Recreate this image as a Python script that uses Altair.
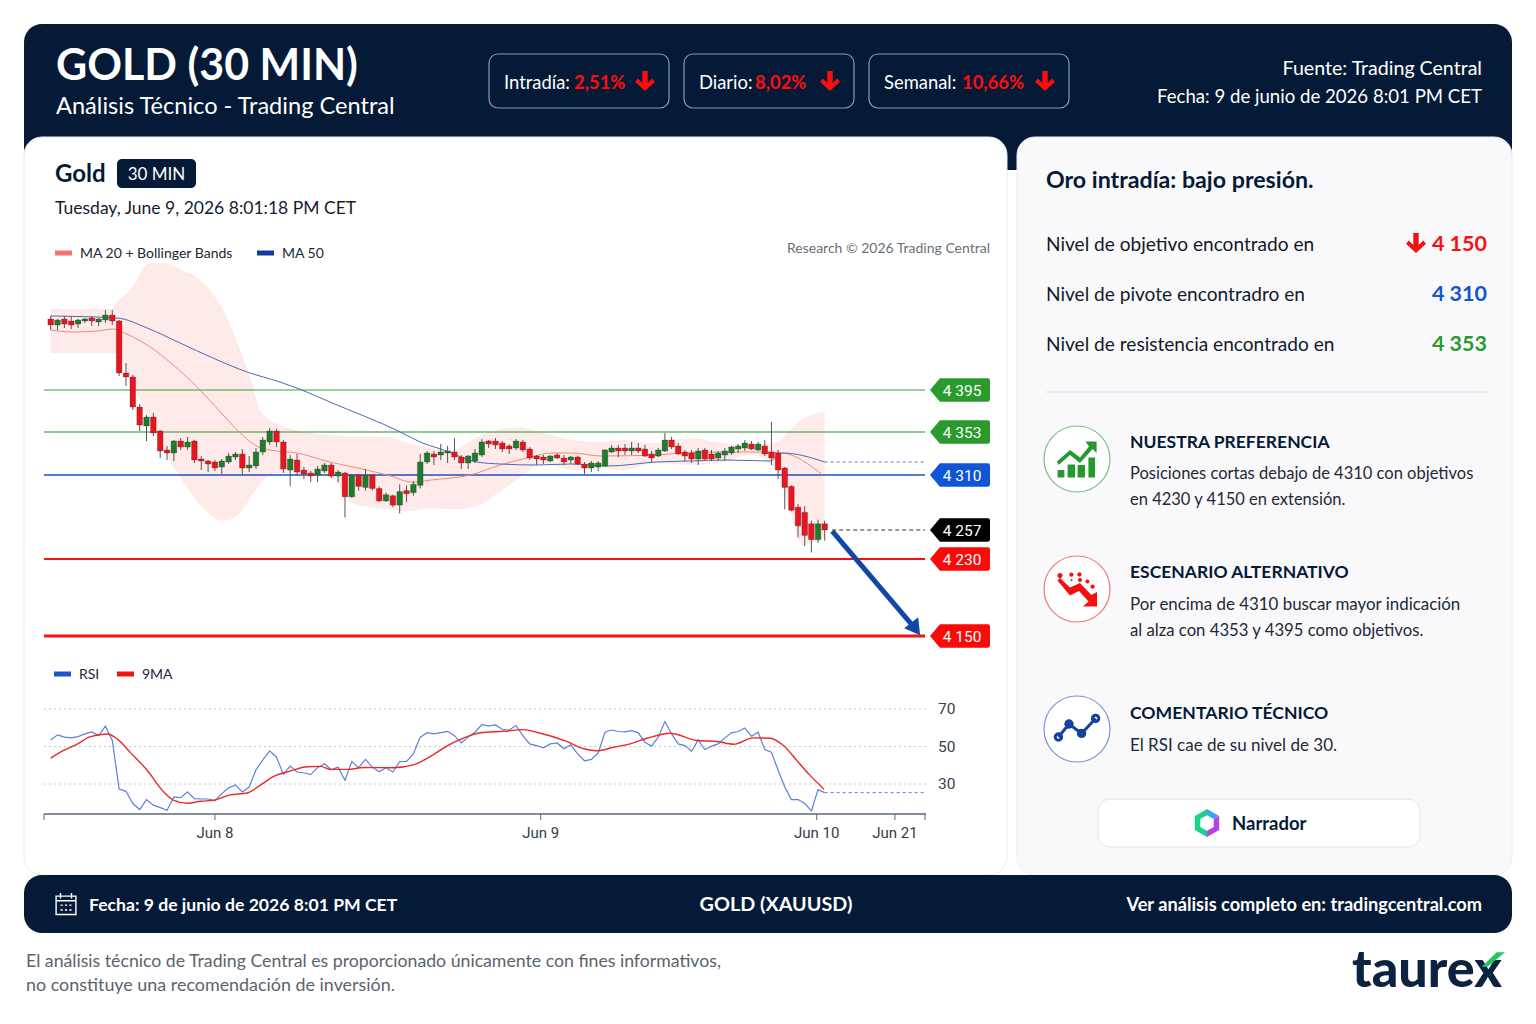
import altair as alt

# ---------- price data (30 min candles) ----------
opens = [4466,4460,4466,4464,4461,4464,4467,4463,4465,4470,4464,4412,4408,4378,4359,4368,4354,4335,4332,4344,
         4338,4344,4326,4324,4323,4318,4323,4328,4331,4317,4319,4333,4343,4354,4343,4315,4325,4315,4312,4310,
         4314,4320,4309,4312,4289,4310,4298,4310,4297,4285,4290,4281,4295,4293,4300,4323,4331,4330,4332,4333,
         4328,4322,4324,4330,4344,4344,4342,4339,4337,4343,4336,4329,4328,4324,4330,4327,4325,4328,4321,4317,
         4318,4319,4333,4337,4337,4334,4337,4336,4331,4329,4334,4345,4339,4333,4332,4326,4335,4331,4327,4330,
         4332,4336,4337,4341,4335,4339,4333,4332,4317,4299,4279,4274,4263,4248,4263]
highs = [4469,4466,4469,4469,4466,4467,4469,4467,4475,4475,4465,4422,4410,4381,4370,4372,4355,4339,4345,4347,
         4348,4345,4329,4325,4325,4326,4332,4333,4336,4329,4337,4348,4357,4356,4345,4330,4331,4318,4314,4319,
         4322,4322,4315,4313,4311,4311,4316,4311,4299,4293,4291,4301,4300,4304,4331,4334,4334,4341,4339,4347,
         4330,4330,4336,4346,4345,4347,4344,4341,4346,4345,4338,4330,4330,4330,4332,4330,4329,4329,4323,4324,
         4324,4336,4340,4340,4341,4343,4342,4340,4334,4337,4352,4348,4342,4335,4335,4337,4337,4335,4334,4337,
         4339,4341,4345,4344,4343,4345,4363,4335,4318,4300,4282,4280,4266,4267,4266]
lows = [4455,4455,4457,4456,4457,4462,4459,4459,4462,4460,4409,4399,4375,4354,4344,4349,4327,4325,4324,4335,
        4335,4322,4315,4313,4314,4311,4321,4325,4310,4313,4316,4330,4340,4338,4312,4299,4310,4306,4303,4303,
        4312,4307,4303,4269,4288,4295,4295,4295,4284,4284,4279,4273,4284,4290,4297,4321,4320,4325,4322,4325,
        4316,4316,4322,4328,4337,4336,4333,4331,4335,4333,4325,4320,4321,4323,4326,4320,4321,4320,4311,4313,
        4314,4318,4332,4328,4330,4330,4332,4328,4323,4328,4333,4336,4330,4324,4322,4320,4325,4324,4324,4324,
        4330,4332,4334,4335,4334,4329,4320,4306,4277,4275,4250,4242,4236,4245,4247]
closes = [4460,4465,4461,4460,4465,4466,4464,4466,4470,4464,4412,4408,4378,4360,4368,4352,4334,4332,4344,4338,
          4343,4325,4324,4321,4317,4324,4329,4331,4317,4320,4333,4345,4354,4343,4316,4326,4313,4311,4309,4316,
          4320,4309,4313,4289,4310,4299,4310,4297,4285,4291,4281,4294,4292,4301,4323,4332,4328,4333,4334,4328,
          4322,4329,4332,4343,4341,4340,4336,4336,4344,4335,4327,4326,4325,4329,4327,4323,4328,4321,4317,4322,
          4322,4335,4337,4334,4334,4337,4334,4329,4327,4335,4345,4338,4331,4329,4326,4334,4326,4326,4332,4334,
          4338,4339,4342,4336,4341,4331,4327,4315,4298,4276,4261,4252,4248,4263,4257]

ma20_i = [0,3.3,6.8,9.1,10.4,14.1,17.9,21.4,24.8,27.7,30.1,32,36,40.8,44.2,49.2,53,55.4,61.3,65.7,69.6,73.4,76.4,80.3,88.8,92.3,98.7,104.7,107.7,113.7]
ma20_v = [4455,4453,4454,4456,4453,4440,4420,4398,4373,4352,4339,4335,4332,4323,4318,4310,4303,4305,4310,4320,4327,4332,4332,4329,4330,4332,4333,4333,4332,4310]
ma50_i = [0,9.7,14.1,18.9,23.7,28.7,33.5,36.7,40.8,51.1,54,57.4,62.3,65.7,71,75.9,81.5,88.8,93.7,99.3,105.7,107.7,114]
ma50_v = [4469,4467,4457,4442,4427,4413,4403,4395,4383,4353,4343,4335,4323,4321,4320,4321,4319,4323,4324,4325,4324,4332,4323]
band_i = [0,8.7,9.7,11.6,14.5,16.7,18.9,22.3,25.2,27.4,29.4,30.6,33.1,40.8,44.2,49.2,52.1,55.4,58.8,62.3,65.2,68.6,72,76.4,80.3,83.7,88.8,93.7,98.7,102.8,106.8,108.8,110.7,114]
band_up = [4476,4476,4483,4495,4522,4522,4516,4502,4475,4440,4402,4375,4361,4350,4349,4348,4342,4337,4335,4348,4355,4358,4352,4345,4343,4345,4342,4347,4342,4340,4343,4355,4366,4373]
band_lo = [4432,4432,4431,4405,4365,4333,4308,4278,4266,4272,4290,4302,4312,4308,4282,4277,4275,4278,4277,4280,4292,4308,4322,4315,4317,4315,4322,4320,4323,4330,4315,4275,4243,4250]

levels = [4395,4353,4310,4257,4230,4150]
level_labels = ["4 395","4 353","4 310","4 257","4 230","4 150"]
level_colors = ["#2a9a2c","#2a9a2c","#0f55d8","#000000","#fb0a0a","#fb0a0a"]

# ---------- RSI ----------
rsi = [53.5,56.2,55,54.6,55.3,56.7,57.8,55.8,60.8,53.2,27.3,26.1,19.6,16.4,21.7,18.7,17.4,16,23.1,22.7,
       25.8,22.2,22,22,21,24.9,28,29.5,25.8,28.4,37.6,42.9,47.7,44.3,35.1,39.6,36.4,36,35,38.7,
       40.8,37.6,39,32,42,38.7,43.1,39,36.5,38.7,36.4,42,42,46.1,55,57.4,56.7,57.4,58.1,55.8,
       51.9,55,57.6,61.7,61,61.5,59.2,58.8,61.2,55.8,51.4,50.5,49.3,51.4,51.9,48.8,50.9,46.1,42.4,43.1,
       46.5,57.6,58.8,58,57.8,58.5,57.3,52.3,50.2,55,63.3,56.7,51.4,50.5,47.5,53.5,48.4,50.2,51.4,54.6,
       57.3,58,59.9,55.5,57.6,48.4,47,37.3,28.4,21.7,21.7,19.6,15.7,27,25.4]
ma9_i = [0,1.9,3.8,5.8,8.3,9.7,11.6,14.1,16.5,18,20,21.9,23.8,26.2,28.7,30.6,32.6,35,37.5,39.4,40.9,43.4,45.7,50.1,53.1,55.5,58,60.4,62.8,66.2,69.1,71,75.4,77.9,79.8,82.3,84.8,87.3,90.8,94.8,97.8,100.3,103.3,105.8,107.8,109.8,111.8,113.9]
ma9_v = [43.8,47.9,51.1,55.3,56.7,54.1,47,37.3,25.8,21.3,19.7,20.8,21.3,24.2,25.2,29.3,34.1,36.9,39.2,39.4,37.8,37.8,38.8,38.7,40.3,44.7,50.5,54.6,57.3,58.1,59,57.6,52.7,48.8,47.7,49.6,51.4,54.4,57.1,53.2,52.7,51.2,54.6,54.4,50.5,42.6,34.6,27.2]
rsi_levels = [70,50,30]
date_ticks = [24,71.6,112.8,122.4]
date_labels = ["Jun 8","Jun 9","Jun 10","Jun 21"]

# ---------- palette / fonts ----------
NAVY = "#051a36"
UI = "Lato"
CH = "Roboto"
M = 8

X_SCALE = alt.Scale(domain=[-1,0,81,114,126], range=[44-M,50.7-M,605-M,824.7-M,925-M], nice=False, zero=False)
PY_SCALE = alt.Scale(domain=[4150,4230,4257,4310,4395], range=[636-M,559-M,530-M,475-M,390-M], nice=False, zero=False)
RY_SCALE = alt.Scale(domain=[30,70], range=[784-M,709-M], nice=False, zero=False)
ONE = alt.Data(values=[{"a":1}])

def X(f="i", t="quantitative"): return alt.X(f, type=t, scale=X_SCALE, axis=None)
def PY(f="p"): return alt.Y(f, type="quantitative", scale=PY_SCALE, axis=None)
def RY(f="r"): return alt.Y(f, type="quantitative", scale=RY_SCALE, axis=None)
def recs(**cols):
    keys = list(cols)
    return alt.Data(values=[dict(zip(keys, row)) for row in zip(*cols.values())])

layers = []
def box(x0,y0,x1,y1,fill=None,stroke=None,sw=1,r=0,op=None):
    kw = dict(cornerRadius=r, strokeWidth=sw)
    kw["fill"] = fill if fill else "transparent"
    if stroke: kw["stroke"] = stroke
    layers.append(alt.Chart(ONE).mark_rect(**kw).encode(x=alt.value(x0-M),x2=alt.value(x1-M),y=alt.value(y0-M),y2=alt.value(y1-M)))
def text(s,x,y,size=18,color="#101828",weight=400,align="left",font=UI):
    layers.append(alt.Chart(ONE).mark_text(align=align,baseline="middle",fontSize=size,color=color,fontWeight=weight,font=font)
                  .encode(x=alt.value(x-M),y=alt.value(y+2-M),text=alt.value(s)))
def glyph(path,x,y,px,fill=None,stroke=None,sw=1):
    kw = dict(shape=path,size=px*px,opacity=1,strokeWidth=sw if stroke else 0)
    kw["filled"] = True
    kw["fill"] = fill if fill else "transparent"
    if stroke: kw["stroke"] = stroke
    layers.append(alt.Chart(ONE).mark_point(**kw).encode(x=alt.value(x-M),y=alt.value(y-M)))
def hline(x0,x1,y,color,sw=1):
    layers.append(alt.Chart(ONE).mark_rule(color=color,strokeWidth=sw).encode(x=alt.value(x0-M),x2=alt.value(x1-M),y=alt.value(y-M)))

ARROW = "M-0.27,-1L0.27,-1L0.27,0.2L0.72,-0.26L1,0.08L0,1L-1,0.08L-0.72,-0.26L-0.27,0.2Z"
def dot(u,v,r): return f"M{u-r},{v}a{r},{r} 0 1,0 {2*r},0a{r},{r} 0 1,0 {-2*r},0Z"

# ---------- frames ----------
box(24,24,1512,170,fill=NAVY,r=18)
box(24,137,1007,875,fill="#ffffff",stroke="#e9ebef",r=18)
box(1017,137,1512,875,fill="#f9f9fb",stroke="#eceef1",r=18)
box(24,875,1512,933,fill=NAVY,r=18)

# ---------- header ----------
text("GOLD (30 MIN)",56,65,43,"#ffffff",700)
text("Análisis Técnico - Trading Central",56,105,23.6,"#ffffff",400)
text("Fuente: Trading Central",1482,67,19.6,"#ffffff",400,"right")
text("Fecha: 9 de junio de 2026 8:01 PM CET",1482,95,18.6,"#ffffff",400,"right")
for x0,x1 in [(489,669),(684,854),(869,1069)]:
    box(x0,54,x1,108,stroke="#8c99ad",sw=1.2,r=9)
for lab,lx,val,vx,ax in [("Intradía:",504,"2,51%",574,645),("Diario:",699,"8,02%",755,830),("Semanal:",884,"10,66%",962,1045)]:
    text(lab,lx,81,18.4,"#ffffff")
    text(val,vx,81,18.4,"#ff0d0d",700)
    glyph(ARROW,ax,81,20,fill="#ff0d0d")

# ---------- chart head ----------
text("Gold",55,173,24,NAVY,700)
box(117,159,196,188,fill=NAVY,r=5)
text("30 MIN",156.5,173,17,"#ffffff",400,"center")
text("Tuesday, June 9, 2026 8:01:18 PM CET",55,207,17.5,"#161e2e")
hline(55,72,253,"#f87272",5)
text("MA 20 + Bollinger Bands",80,252,14,"#202837")
hline(257,274,253,"#113c9b",5)
text("MA 50",282,252,14,"#202837")
text("Research © 2026 Trading Central",990,247,14,"#6a6f78",400,"right")

# ---------- price panel ----------
layers.append(alt.Chart(recs(i=band_i,up=band_up,lo=band_lo)).mark_area(color="#fee6e4",opacity=0.85,interpolate="monotone")
              .encode(x=X(),y=PY("up"),y2=alt.Y2("lo")))
line_w = [1,1.3,1.3,1,2,3]
line_c = ["#3c9a3c","#6db56d","#1b50bd","#000000","#f21212","#f21212"]
for lv,w,c in zip(levels,line_w,line_c):
    if lv==4257:
        layers.append(alt.Chart(recs(i=[114.9,126],p=[lv,lv])).mark_line(color="#333333",strokeWidth=1,strokeDash=[4,3]).encode(x=X(),y=PY()))
    else:
        layers.append(alt.Chart(recs(i=[-1,126],p=[lv,lv])).mark_line(color=c,strokeWidth=w).encode(x=X(),y=PY()))
layers.append(alt.Chart(recs(i=ma20_i,p=ma20_v)).mark_line(color="#ef8a7c",strokeWidth=1,interpolate="monotone").encode(x=X(),y=PY()))
layers.append(alt.Chart(recs(i=ma50_i,p=ma50_v)).mark_line(color="#4a6bb0",strokeWidth=1,interpolate="monotone").encode(x=X(),y=PY()))
layers.append(alt.Chart(recs(i=[114,126],p=[ma50_v[-1],ma50_v[-1]])).mark_line(color="#5d7dbd",strokeWidth=1,strokeDash=[3,3]).encode(x=X(),y=PY()))

idx = list(range(len(opens)))
ohlc = recs(i=idx,o=opens,h=highs,l=lows,c=closes,d=["up" if c>=o else "down" for o,c in zip(opens,closes)])
layers.append(alt.Chart(ohlc).mark_rule(color="#555555",strokeWidth=1).encode(x=X(),y=PY("h"),y2=alt.Y2("l")))
layers.append(alt.Chart(ohlc).mark_bar(size=5.6,stroke="#3a2a2a",strokeWidth=0.3).encode(
    x=X(),y=PY("o"),y2=alt.Y2("c"),
    color=alt.Color("d:N",scale=alt.Scale(domain=["up","down"],range=["#1c7d2c","#ea1420"]),legend=None)))

# target arrow
layers.append(alt.Chart(recs(i=[114.9,124.7],p=[4256,4159])).mark_line(color="#1446a6",strokeWidth=5).encode(x=X(),y=PY()))
layers.append(alt.Chart(recs(i=[124.7],p=[4159])).mark_point(shape="M0.3,0.4L-0.5,0.05L0.2,-0.5Z",size=1600,filled=True,fill="#1446a6",opacity=1).encode(x=X(),y=PY()))

# level tags
TAG = "M-1,0L-0.67,-0.39L0.93,-0.39Q1,-0.39 1,-0.32L1,0.32Q1,0.39 0.93,0.39L-0.67,0.39Z"
tags = recs(p=levels,t=level_labels,c=level_colors)
layers.append(alt.Chart(tags).mark_point(shape=TAG,size=3600,filled=True,opacity=1).encode(
    x=alt.value(960-M),y=PY(),
    fill=alt.Color("c:N",scale=None,legend=None)))
layers.append(alt.Chart(tags).mark_text(color="#ffffff",fontSize=15.5,font=CH,align="center",baseline="middle",dx=2,dy=1).encode(
    x=alt.value(960-M),y=PY(),text="t:N"))

# ---------- RSI panel ----------
hline(54,71,674,"#1a56c8",5)
text("RSI",79,673,14,"#202837")
hline(117,134,674,"#f21212",5)
text("9MA",142,673,14,"#202837")
layers.append(alt.Chart(alt.Data(values=[{"r":v} for v in rsi_levels])).mark_rule(color="#c6cacf",strokeWidth=1,strokeDash=[2,3]).encode(
    x=alt.value(44-M),x2=alt.value(926-M),y=RY()))
layers.append(alt.Chart(alt.Data(values=[{"r":v} for v in rsi_levels])).mark_text(color="#3a4048",fontSize=15.5,font=CH,align="left",baseline="middle").encode(
    x=alt.value(938-M),y=RY(),text="r:Q"))
layers.append(alt.Chart(recs(i=idx,r=rsi)).mark_line(color="#5b82d6",strokeWidth=1.2).encode(x=X(),y=RY()))
layers.append(alt.Chart(recs(i=[114,126],r=[rsi[-1],rsi[-1]])).mark_line(color="#5b82d6",strokeWidth=1,strokeDash=[3,3]).encode(x=X(),y=RY()))
layers.append(alt.Chart(recs(i=ma9_i,r=ma9_v)).mark_line(color="#ea2a2a",strokeWidth=1.4,interpolate="monotone").encode(x=X(),y=RY()))
hline(44,926,814,"#5a687c",1.4)
tick_df = recs(i=[-1]+date_ticks+[126],t=[""]+date_labels+[""])
layers.append(alt.Chart(tick_df).mark_rule(color="#5a687c",strokeWidth=1).encode(x=X(),y=alt.value(814-M),y2=alt.value(820-M)))
layers.append(alt.Chart(tick_df).mark_text(color="#353c48",fontSize=15,font=CH,align="center",baseline="middle",dx=0).encode(x=X(),y=alt.value(833-M),text="t:N"))

# ---------- right panel ----------
text("Oro intradía: bajo presión.",1046,179,23.2,NAVY,700)
for lab,y,val,col in [("Nivel de objetivo encontrado en",243,"4 150","#f21212"),
                      ("Nivel de pivote encontradro en",293,"4 310","#1156cc"),
                      ("Nivel de resistencia encontrado en",343,"4 353","#2a9a2c")]:
    text(lab,1046,y,19.1,"#121a2a")
    text(val,1487,y,21.5,col,700,"right")
glyph(ARROW,1416,243,20,fill="#f21212")
hline(1046,1487,392,"#d9dce1",1)
for cy,col in [(459,"#7cc081"),(589,"#ef7b75"),(729,"#7d95d4")]:
    layers.append(alt.Chart(ONE).mark_point(shape="circle",size=66*66,filled=True,fill="#ffffff",stroke=col,strokeWidth=1.2,opacity=1)
                  .encode(x=alt.value(1077-M),y=alt.value(cy-M)))
GREEN_ICON = ("M-0.97,0.55L-0.63,0.55L-0.63,0.92L-0.97,0.92Z M-0.47,0.27L-0.1,0.27L-0.1,0.92L-0.47,0.92Z "
              "M0.03,0.3L0.4,0.3L0.4,0.92L0.03,0.92Z M0.57,-0.07L0.9,-0.07L0.9,0.92L0.57,0.92Z "
              "M-1,0.12L-0.35,-0.45L0.15,-0.07L0.6,-0.62L0.42,-0.87L0.98,-0.87L0.98,-0.3L0.78,-0.5L0.15,0.2L-0.35,-0.2L-0.92,0.3Z")
glyph(GREEN_ICON,1077,459,40,fill="#24992e")
RED_ICON = ("M-0.98,-0.42L-0.85,-0.55L-0.35,-0.08L0.15,-0.3L0.72,0.3L1,0.15L1,0.88L0.3,0.88L0.58,0.62L0.1,0.1L-0.35,0.32Z "
            + dot(-.85,-.67,.13)+dot(-.28,-.72,.11)+dot(.12,-.73,.11)+dot(.15,-.45,.1)+dot(.52,-.37,.1)+dot(.78,-.12,.11)+dot(-.27,-.45,.05))
glyph(RED_ICON,1077,589,40,fill="#f50f0f")
BLUE_ICON = "M-0.93,0.4L-0.4,-0.25L0.23,0.22L0.93,-0.53L0.23,0.22L-0.4,-0.25Z "+dot(-.93,.4,.16)+dot(-.4,-.25,.16)+dot(.23,.22,.16)+dot(.93,-.53,.16)
glyph(BLUE_ICON,1077,729,40,fill="#ffffff",stroke="#14419f",sw=3)
text("NUESTRA PREFERENCIA",1130,441,17.5,NAVY,700)
text("Posiciones cortas debajo de 4310 con objetivos",1130,472,16.5,"#1e2838")
text("en 4230 y 4150 en extensión.",1130,498,16.5,"#1e2838")
text("ESCENARIO ALTERNATIVO",1130,571,17.5,NAVY,700)
text("Por encima de 4310 buscar mayor indicación",1130,603,16.9,"#1e2838")
text("al alza con 4353 y 4395 como objetivos.",1130,629,16.7,"#1e2838")
text("COMENTARIO TÉCNICO",1130,712,17.6,NAVY,700)
text("El RSI cae de su nivel de 30.",1130,744,17,"#1e2838")
box(1098,799,1420,847,fill="#ffffff",stroke="#dfe2e6",r=12)
glyph("M0,-1L-0.87,-0.5L-0.87,0.5L0,1L0,0.55L-0.48,0.28L-0.48,-0.28L0,-0.55Z",1207,823,28,fill="#16d48c")
glyph("M0,-1L0.87,-0.5L0.48,-0.28L0,-0.55Z",1207,823,28,fill="#3aa8f0")
glyph("M0.87,-0.5L0.87,0.5L0,1L0,0.55L0.48,0.28L0.48,-0.28Z",1207,823,28,fill="#b93fe6")
text("Narrador",1232,822,18.5,NAVY,700)

# ---------- footer ----------
CAL = ("M-0.9,-0.72L0.9,-0.72L0.9,0.95L-0.9,0.95Z M-0.9,-0.3L0.9,-0.3 M-0.5,-1L-0.5,-0.5 M0.5,-1L0.5,-0.5 "
       "M-0.5,0.1L-0.3,0.1 M-0.1,0.1L0.1,0.1 M0.3,0.1L0.5,0.1 M-0.5,0.55L-0.3,0.55 M-0.1,0.55L0.1,0.55 M0.3,0.55L0.5,0.55")
glyph(CAL,66,904,22,stroke="#ffffff",sw=1.4)
text("Fecha: 9 de junio de 2026 8:01 PM CET",89,904,17.6,"#ffffff",700)
text("GOLD (XAUUSD)",776,903,19.8,"#ffffff",700,"center")
text("Ver análisis completo en: tradingcentral.com",1482,904,18.2,"#ffffff",700,"right")
text("El análisis técnico de Trading Central es proporcionado únicamente con fines informativos,",26,960,17.7,"#5a6370")
text("no constituye una recomendación de inversión.",26,984,17.9,"#5a6370")
text("taurex",1352,969,52,"#0b2340",900)
glyph("M0.3,-0.64L1,-0.64L-0.47,0.56L-0.94,0.56Z",1493,960,24,fill="#22c55e")

chart = alt.layer(*layers).resolve_scale(x="independent",y="independent",color="independent",fill="independent").properties(
    width=1520,height=1008,padding=0,background="#ffffff",
).configure_view(stroke=None)
chart.save("out.html", embed_options={"renderer": "svg", "actions": False})
